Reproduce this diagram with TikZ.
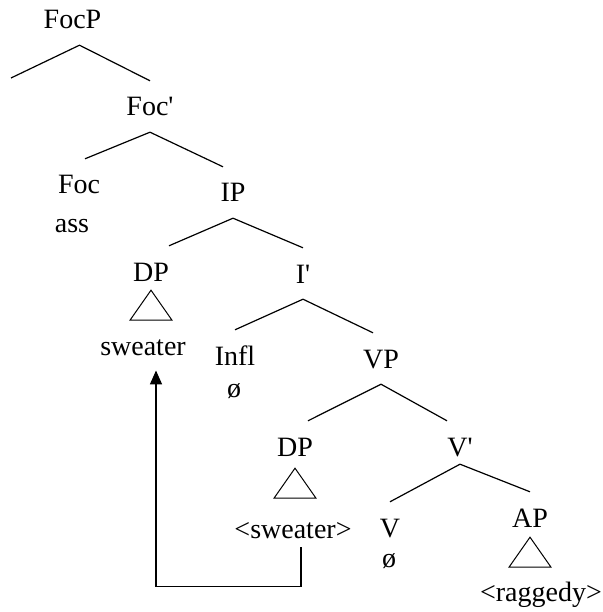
\documentclass[tikz,border=0pt]{standalone}
\usepackage{fontspec}
\setmainfont{Liberation Serif}
\usetikzlibrary{arrows.meta}
\tikzset{
    every node/.style={font=\fontsize{28}{32}\selectfont,},
    cat/.style={anchor=base,inner xsep=0pt,inner ysep=16pt,text height=19pt,text depth=0pt,},
    word/.style={anchor=base,inner sep=0pt,},
    branch/.style={line width=1.2pt,},
    move/.style={line width=1.6pt,-{Triangle[width=12pt,length=14pt]},},
}

\begin{document}
\begin{tikzpicture}[x=1pt,y=-1pt]
                \useasboundingbox (0,0) rectangle (602,612);

                \node[cat] (focp) at (72.5, 29) {FocP};
                \coordinate (focl) at (11, 78);
                \node[cat] (focbar) at (150, 116) {Foc\textquotesingle};
                \node[cat] (foc) at (79, 194) {Foc};
                \node[word] (ass) at (72, 233) {ass};
                \node[cat] (ip) at (233, 202) {IP};
                \node[cat] (dp) at (151, 281) {DP};
                \node[word] (sweater) at (143, 355) {sweater};
                \node[cat] (ibar) at (303, 283) {I\textquotesingle};
                \node[cat] (infl) at (235, 365) {Infl};
                \node[word] (inflnull) at (234, 397) {ø};
                \node[cat] (vp) at (381, 368) {VP};
                \node[cat] (dptrace) at (295, 456) {DP};
                \node[word] (sweatertrace) at (293, 538) {<sweater>};
                \node[cat] (vbar) at (460, 456) {V\textquotesingle};
                \node[cat] (v) at (390, 537) {V};
                \node[word] (vnull) at (389, 567) {ø};
                \node[cat] (ap) at (530, 527) {AP};
                \node[word] (raggedy) at (541, 601) {<raggedy>};

                \draw[branch] (focl) -- ([xshift=7pt]focp.south) -- (focbar.north);
                \draw[branch] ([xshift=6pt]foc.north) -- (focbar.south) -- ([xshift=-10pt]ip.north);
                \draw[branch] ([xshift=18pt]dp.north) -- (ip.south) -- (ibar.north);
                \draw[branch] (infl.north) -- (ibar.south) -- ([xshift=-8pt]vp.north);
                \draw[branch] ([xshift=13pt]dptrace.north) -- (vp.south) -- ([xshift=-13pt]vbar.north);
                \draw[branch] (v.north) -- ([yshift=8pt]vbar.south) -- (ap.north);

                \draw[line width=1pt] ([yshift=7pt]dp.south) -- ++(-21,30) -- ++(42,0) -- cycle;
                \draw[line width=1pt] ([yshift=4pt]dptrace.south) -- ++(-21,30) -- ++(42,0) -- cycle;
                \draw[line width=1pt] ([yshift=6pt]ap.south) -- ++(-21,30) -- ++(42,0) -- cycle;

                \draw[move] ([xshift=8pt,yshift=-9pt]sweatertrace.south) -- ++(0,39) -| ([xshift=13pt,yshift=-15pt]sweater.south);
            \end{tikzpicture}
\end{document}
